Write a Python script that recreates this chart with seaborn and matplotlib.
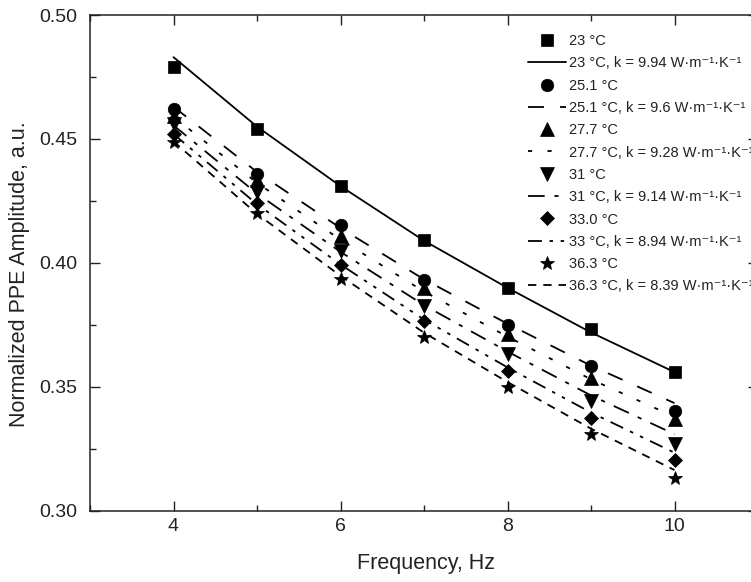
import matplotlib
matplotlib.use("Agg")
import matplotlib.pyplot as plt
from matplotlib.ticker import MultipleLocator, FormatStrFormatter
import seaborn as sns

# ---------------- data ----------------
freq = [4, 5, 6, 7, 8, 9, 10]
temp_labels = ["23", "25.1", "27.7", "31", "33.0", "36.3"]
fit_labels = ["23", "25.1", "27.7", "31", "33", "36.3"]
k_values = ["9.94", "9.6", "9.28", "9.14", "8.94", "8.39"]

amp_23 = [0.4789, 0.4540, 0.4312, 0.4093, 0.3901, 0.3732, 0.3562]
amp_25 = [0.4620, 0.4360, 0.4153, 0.3932, 0.3752, 0.3585, 0.3405]
amp_27 = [0.4592, 0.4333, 0.4110, 0.3899, 0.3712, 0.3538, 0.3371]
amp_31 = [0.4560, 0.4286, 0.4050, 0.3825, 0.3632, 0.3445, 0.3271]
amp_33 = [0.4520, 0.4240, 0.3993, 0.3765, 0.3565, 0.3374, 0.3204]
amp_36 = [0.4487, 0.4200, 0.3935, 0.3703, 0.3502, 0.3311, 0.3134]

fit_23 = [0.4830, 0.4550, 0.4310, 0.4090, 0.3900, 0.3720, 0.3560]
fit_25 = [0.4630, 0.4367, 0.4141, 0.3934, 0.3755, 0.3586, 0.3435]
fit_27 = [0.4590, 0.4323, 0.4094, 0.3885, 0.3703, 0.3531, 0.3380]
fit_31 = [0.4555, 0.4280, 0.4045, 0.3830, 0.3643, 0.3466, 0.3310]
fit_33 = [0.4520, 0.4237, 0.3994, 0.3772, 0.3579, 0.3397, 0.3235]
fit_36 = [0.4490, 0.4198, 0.3948, 0.3719, 0.3520, 0.3332, 0.3165]

amps = [amp_23, amp_25, amp_27, amp_31, amp_33, amp_36]
fits = [fit_23, fit_25, fit_27, fit_31, fit_33, fit_36]

# ---------------- style ----------------
sns.set_theme(style="ticks")
plt.rcParams["font.family"] = ["Liberation Sans", "DejaVu Sans"]
plt.rcParams["lines.scale_dashes"] = False

markers = ["s", "o", "^", "v", "D", "*"]
msizes = [8.5, 9.0, 10.0, 10.0, 6.8, 10.5]
styles = [
    "-",
    (0, (11.5, 11.5)),
    (0, (3.0, 11.0)),
    (0, (12.0, 7.0, 3.0, 7.0)),
    (0, (10.0, 5.5, 2.5, 5.5, 2.5, 5.5)),
    (0, (6.0, 5.0)),
]
ink = "#222222"

W, H = 751, 582
fig = plt.figure(figsize=(W / 100, H / 100), dpi=100)
fig.patch.set_facecolor("white")
ax = fig.add_axes([90 / W, (H - 511) / H, 668 / W, 496 / H])
ax.set_facecolor("white")

for i in range(len(amps)):
    sns.lineplot(x=freq, y=amps[i], ax=ax, marker=markers[i],
                 markersize=msizes[i], linestyle="", color="black",
                 markeredgecolor="black", markerfacecolor="black",
                 markeredgewidth=0.5, label=f"{temp_labels[i]} °C",
                 legend=False)
    sns.lineplot(x=freq, y=fits[i], ax=ax, color="black",
                 linestyle=styles[i], linewidth=1.3,
                 label=f"{fit_labels[i]} °C, k = {k_values[i]} W·m⁻¹·K⁻¹",
                 legend=False)

ax.set_xlim(3, 11)
ax.set_ylim(0.30, 0.50)
ax.xaxis.set_major_locator(MultipleLocator(2))
ax.xaxis.set_minor_locator(MultipleLocator(1))
ax.yaxis.set_major_locator(MultipleLocator(0.05))
ax.yaxis.set_minor_locator(MultipleLocator(0.025))
ax.yaxis.set_major_formatter(FormatStrFormatter("%.2f"))
ax.set_xticks([4, 6, 8, 10])

ax.tick_params(which="both", direction="in", top=True, right=True,
               color=ink, width=1.0)
ax.tick_params(which="major", length=7, labelsize=14, labelcolor=ink)
ax.tick_params(axis="x", which="major", pad=5)
ax.tick_params(axis="y", which="major", pad=9)
ax.tick_params(which="minor", length=4)
for sp in ax.spines.values():
    sp.set_visible(True)
    sp.set_color(ink)
    sp.set_linewidth(1.1)

ax.set_xlabel("Frequency, Hz", fontsize=15.5, color=ink)
ax.set_ylabel("Normalized PPE Amplitude, a.u.", fontsize=15.5, color=ink)
ax.xaxis.label.set_va("center")
ax.yaxis.label.set_va("center")
ax.xaxis.set_label_coords((426 - 90) / 668, (511 - 563) / 496)
ax.yaxis.set_label_coords((20 - 90) / 668, (511 - 274) / 496)

handles, labels = ax.get_legend_handles_labels()
leg = ax.legend(handles, labels, loc="upper left",
                bbox_to_anchor=(528 / W, 1 - 34 / H),
                bbox_transform=fig.transFigure, frameon=False,
                fontsize=10.5, handlelength=2.62, handletextpad=0.21,
                labelspacing=0.57, borderpad=0, borderaxespad=0,
                numpoints=1)
for t in leg.get_texts():
    t.set_color(ink)

fig.savefig("out.png", dpi=100, facecolor="white")
